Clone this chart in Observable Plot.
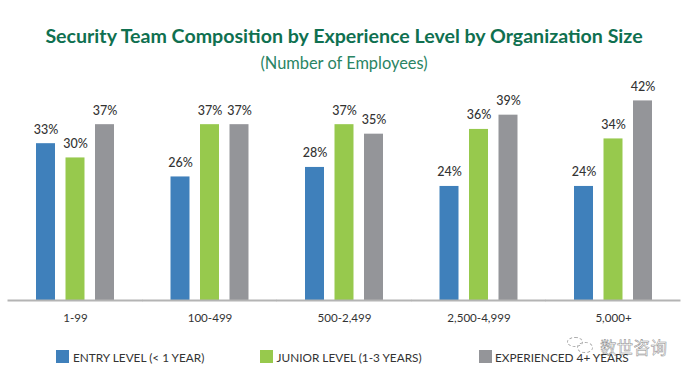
<!DOCTYPE html>
<html><head><meta charset="utf-8">
<script src="https://cdn.jsdelivr.net/npm/d3@7"></script>
<script src="https://cdn.jsdelivr.net/npm/@observablehq/plot@0.6"></script>
<style>
html,body{margin:0;padding:0;background:#fff;width:690px;height:378px;overflow:hidden;font-family:Lato,sans-serif}
#wrap{position:relative;width:690px;height:378px}
h1{position:absolute;left:0;width:688px;top:23px;margin:0;text-align:center;font:700 19.6px/26px Lato,sans-serif;color:#0f7050}
h2{position:absolute;left:0;width:688px;top:53px;margin:0;text-align:center;font:400 16.4px/20px Lato,sans-serif;color:#2a8464}
#chart{position:absolute;left:0;top:70px}
#legend{position:absolute;left:0;top:0}
.k{position:absolute;top:350px;height:13px;width:13px}
.t{position:absolute;top:347.5px;font:400 11.8px/19px Lato,sans-serif;color:#333;white-space:nowrap}
#wm{position:absolute;left:600px;top:336px;font:400 16.5px/22px "Noto Sans CJK SC";color:rgba(255,255,255,.85);-webkit-text-stroke:0.5px #8a8a8a;letter-spacing:0.3px}
.b{position:absolute;border:1px dashed #aaa;border-radius:50%;box-sizing:border-box}
</style></head><body>
<div id="wrap">
<h1>Security Team Composition by Experience Level by Organization Size</h1>
<h2>(Number of Employees)</h2>
<div id="chart"></div>
<div class="b" style="left:567px;top:337px;width:16px;height:10px"></div>
<div class="b" style="left:577px;top:342px;width:16px;height:11px"></div>
<div id="wm">数世咨询</div>
<div id="legend"></div>
</div>
<script>
const sizes = ["1-99","100-499","500-2,499","2,500-4,999","5,000+"];
const levels = ["ENTRY LEVEL (< 1 YEAR)","JUNIOR LEVEL (1-3 YEARS)","EXPERIENCED 4+ YEARS"];
const colors = ["#3f80bb","#97c94d","#949599"];
const entry = [33,26,28,24,24];
const junior = [30,37,37,36,34];
const experienced = [37,37,35,39,42];
const rows = sizes.flatMap((s,i)=>[entry[i],junior[i],experienced[i]].map((v,j)=>({size:s,level:levels[j],value:v})));
const plot = Plot.plot({
  width:690,height:270,
  marginLeft:7.75,marginRight:9.75,marginTop:0,marginBottom:40,
  style:{background:"transparent",fontFamily:"Lato,sans-serif"},
  fx:{domain:sizes,paddingInner:0.264,paddingOuter:0.132,round:false,label:null},
  x:{domain:levels,paddingInner:0.356,paddingOuter:0.356,round:false,axis:null},
  y:{domain:[0,48.4],axis:null},
  color:{domain:levels,range:colors},
  marks:[
    Plot.barY(rows,{fx:"size",x:"level",y:"value",fill:"level"}),
    Plot.text(rows,{fx:"size",x:"level",y:"value",text:d=>d.value+"%",dy:-14,fill:"#333",fontSize:12.5,fontWeight:500}),
    Plot.ruleY([0],{stroke:"#b4b4b4",strokeWidth:2,insetLeft:-18,insetRight:-18}),
    Plot.axisFx({anchor:"bottom",tickSize:0,tickPadding:13.5,fontSize:11.6,color:"#333",label:null})
  ]
});
document.getElementById("chart").appendChild(plot);
const lg=document.getElementById("legend");
[[56,73],[260,276.5],[479,495]].forEach(([kx,tx],i)=>{
  const k=document.createElement("div");k.className="k";k.style.left=kx+"px";k.style.background=colors[i];lg.appendChild(k);
  const t=document.createElement("div");t.className="t";t.style.left=tx+"px";t.textContent=levels[i];lg.appendChild(t);
});
</script>
</body></html>
